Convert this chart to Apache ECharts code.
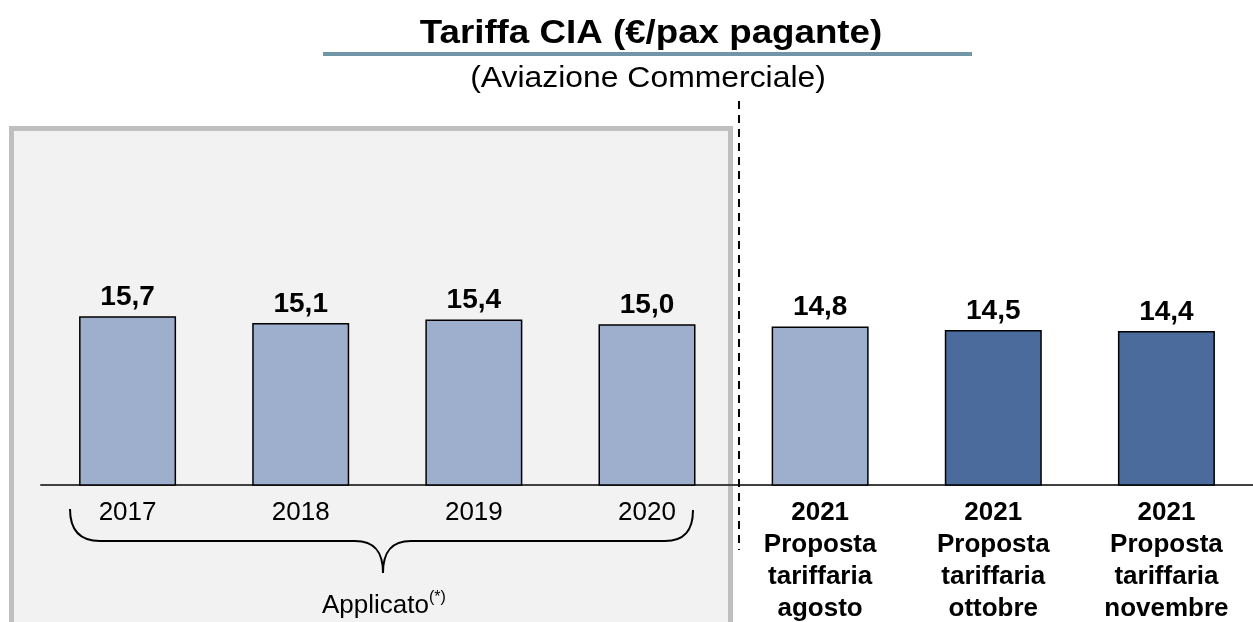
<!DOCTYPE html>
<html>
<head>
<meta charset="utf-8">
<script src="https://cdn.jsdelivr.net/npm/echarts@6/dist/echarts.min.js"></script>
<style>
  html, body { margin: 0; padding: 0; background: #fff; }
  #main { width: 1253px; height: 622px; }
</style>
</head>
<body>
<div id="main"></div>
<script>
// dati
var categories = ['2017', '2018', '2019', '2020',
  '2021\nProposta\ntariffaria\nagosto',
  '2021\nProposta\ntariffaria\nottobre',
  '2021\nProposta\ntariffaria\nnovembre'];
var values = [15.7, 15.1, 15.4, 15.0, 14.8, 14.5, 14.4];
var titolo = 'Tariffa CIA (€/pax pagante)';
var sottotitolo = '(Aviazione Commerciale)';
var nota = 'Applicato';

var FONT = '"Liberation Sans", Arial, sans-serif';
var chiaro = '#9dafcd', scuro = '#4a6b9b';

var myChart = echarts.init(document.getElementById('main'));

// pezzi della parentesi graffa
var graffa = { stroke: '#000', lineWidth: 2, fill: 'none' };
function curva(x1, y1, a, b, c, d, x2, y2) {
  return { type: 'bezierCurve', z: 5, silent: true,
    shape: { x1: x1, y1: y1, cpx1: a, cpy1: b, cpx2: c, cpy2: d, x2: x2, y2: y2 },
    style: graffa };
}
function linea(x1, y1, x2, y2) {
  return { type: 'line', z: 5, silent: true,
    shape: { x1: x1, y1: y1, x2: x2, y2: y2 }, style: graffa };
}

var option = {
  animation: false,
  backgroundColor: '#fff',
  grid: { left: 41, width: 1218, top: 37, bottom: 137 },
  xAxis: {
    type: 'category',
    data: categories,
    axisLine: { lineStyle: { color: '#404040', width: 2 } },
    axisTick: { show: false },
    axisLabel: {
      interval: 0,
      margin: 12,
      formatter: function (v, i) {
        return i < 4 ? '{n|' + v + '}' : '{b|' + v + '}';
      },
      rich: {
        n: { fontFamily: FONT, fontSize: 26, color: '#000', lineHeight: 32 },
        b: { fontFamily: FONT, fontSize: 26, fontWeight: 'bold', color: '#000', lineHeight: 32 }
      }
    }
  },
  yAxis: { type: 'value', min: 1, max: 40, show: false },
  series: [{
    type: 'bar',
    barWidth: 97,
    data: values.map(function (v, i) {
      return { value: v, itemStyle: { color: i < 5 ? chiaro : scuro } };
    }),
    itemStyle: { borderColor: '#000', borderWidth: 1.5 },
    label: {
      show: true,
      position: 'top',
      distance: 5,
      fontFamily: FONT,
      fontSize: 28,
      fontWeight: 'bold',
      color: '#000',
      formatter: function (p) { return p.value.toFixed(1).replace('.', ','); }
    },
    z: 3
  }],
  graphic: [
    // riquadro grigio "Applicato"
    { type: 'rect', z: -10, silent: true,
      shape: { x: 11.5, y: 128.5, width: 719, height: 520 },
      style: { fill: '#f2f2f2', stroke: '#bfbfbf', lineWidth: 5 } },
    // linea tratteggiata
    { type: 'line', z: 5, silent: true,
      shape: { x1: 739, y1: 101, x2: 739, y2: 550 },
      style: { stroke: '#000', lineWidth: 2, lineDash: [8, 6] } },
    // titolo
    { type: 'text', x: 651, y: 34, scaleX: 1.08, z: 5,
      style: { text: titolo, fontFamily: FONT, fontSize: 34, fontWeight: 'bold',
        fill: '#000', align: 'center', verticalAlign: 'middle' } },
    { type: 'line', z: 5, silent: true,
      shape: { x1: 323, y1: 54, x2: 972, y2: 54 },
      style: { stroke: '#7096a8', lineWidth: 4 } },
    { type: 'text', x: 648, y: 79, scaleX: 1.1, z: 5,
      style: { text: sottotitolo, fontFamily: FONT, fontSize: 29,
        fill: '#000', align: 'center', verticalAlign: 'middle' } },
    // parentesi graffa
    curva(70, 509, 70, 530, 80, 541, 100, 541),
    linea(100, 541, 355, 541),
    curva(355, 541, 375, 541, 383, 552, 383, 573),
    curva(383, 573, 383, 552, 391, 541, 411, 541),
    linea(411, 541, 665, 541),
    curva(665, 541, 685, 541, 693, 530, 693, 510),
    { type: 'text', x: 322, y: 606, z: 5,
      style: { text: nota, fontFamily: FONT, fontSize: 26, fill: '#000',
        align: 'left', verticalAlign: 'middle' } },
    { type: 'text', x: 429, y: 598, z: 5,
      style: { text: '(*)', fontFamily: FONT, fontSize: 16, fill: '#000',
        align: 'left', verticalAlign: 'middle' } }
  ]
};

myChart.setOption(option);
</script>
</body>
</html>
